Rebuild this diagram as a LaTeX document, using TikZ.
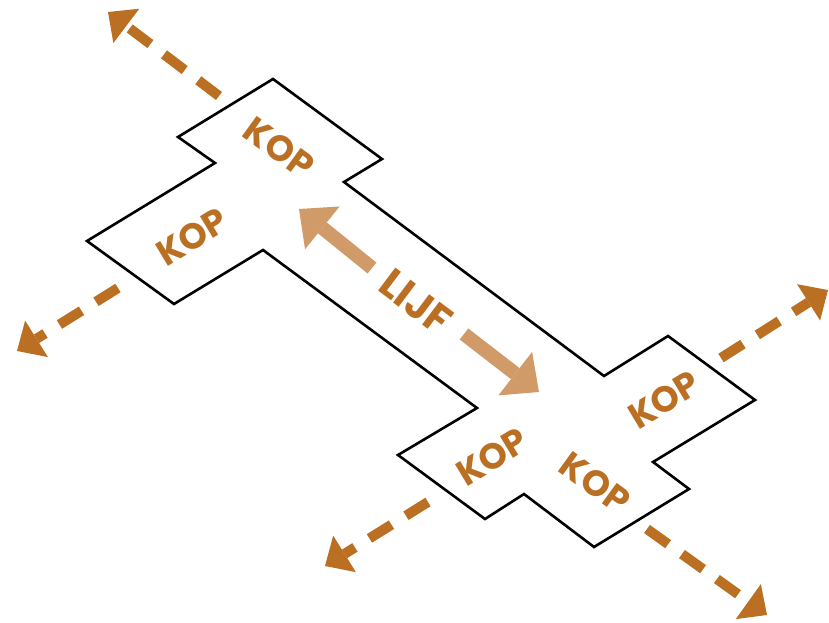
\documentclass[tikz,border=0pt]{standalone}
\usepackage{fontspec}
\newfontfamily\kopfont{Poppins}
\usetikzlibrary{arrows.meta}
\definecolor{kopbrown}{HTML}{BB6F22}
\definecolor{lijftan}{HTML}{D09B68}
\tikzset{
  outline/.style={draw=black, line width=2.6pt, line join=miter},
  kopdash/.style={draw=kopbrown, line width=10pt, dash pattern=on 26pt off 17pt,
    -{Triangle[length=23pt,width=43pt,line width=0pt]}},
  lijfarrow/.style={draw=lijftan, line width=14pt,
    -{Triangle[length=30pt,width=55pt,line width=0pt]}},
  kopl/.style={text=kopbrown, font=\kopfont\bfseries\fontsize{36}{36}\selectfont, inner sep=0pt},
  lijfl/.style={text=kopbrown, font=\kopfont\bfseries\fontsize{41}{41}\selectfont, inner sep=0pt},
}
\begin{document}
\begin{tikzpicture}[x=1pt,y=-1pt]
\useasboundingbox (0,0) rectangle (829,623);

% body outline: two cross-shaped heads joined by a long trunk
\draw[outline] (273,79) -- (382,159) -- (344,182) -- (604,376) -- (668,336)
  -- (755,400) -- (653,462) -- (689,489) -- (594,547) -- (524,494)
  -- (485,519) -- (398,455) -- (477,408) -- (263,250) -- (174,304)
  -- (87,241) -- (215,163) -- (178,137) -- cycle;

% labels
\node[kopl, rotate=-36] (kopa) at (279,148) {KOP};
\node[kopl, rotate=31]  (kopb) at (192,237) {KOP};
\node[kopl, rotate=31]  (kopc) at (664,400) {KOP};
\node[kopl, rotate=31]  (kopd) at (492,457) {KOP};
\node[kopl, rotate=-36] (kope) at (595,483) {KOP};
\node[lijfl, rotate=-37] (lijf) at (416,302) {LIJF};

% trunk double arrow
\coordinate (lijfup) at (372,268);
\coordinate (lijfuptip) at (299,209);
\coordinate (lijfdn) at (464,334);
\coordinate (lijfdntip) at (539,392);
\draw[lijfarrow] (lijfup) -- (lijfuptip);
\draw[lijfarrow] (lijfdn) -- (lijfdntip);

% dashed outward arrows
\coordinate (nws) at (219,96);  \coordinate (nwt) at (108,12);
\coordinate (sws) at (118,288); \coordinate (swt) at (17,351);
\coordinate (nes) at (721,358); \coordinate (net) at (828,290);
\coordinate (sms) at (428,502); \coordinate (smt) at (325,566);
\coordinate (ses) at (647,529); \coordinate (set) at (767,615);
\draw[kopdash] (nws) -- (nwt);
\draw[kopdash] (sws) -- (swt);
\draw[kopdash] (nes) -- (net);
\draw[kopdash] (sms) -- (smt);
\draw[kopdash] (ses) -- (set);
\end{tikzpicture}
\end{document}
